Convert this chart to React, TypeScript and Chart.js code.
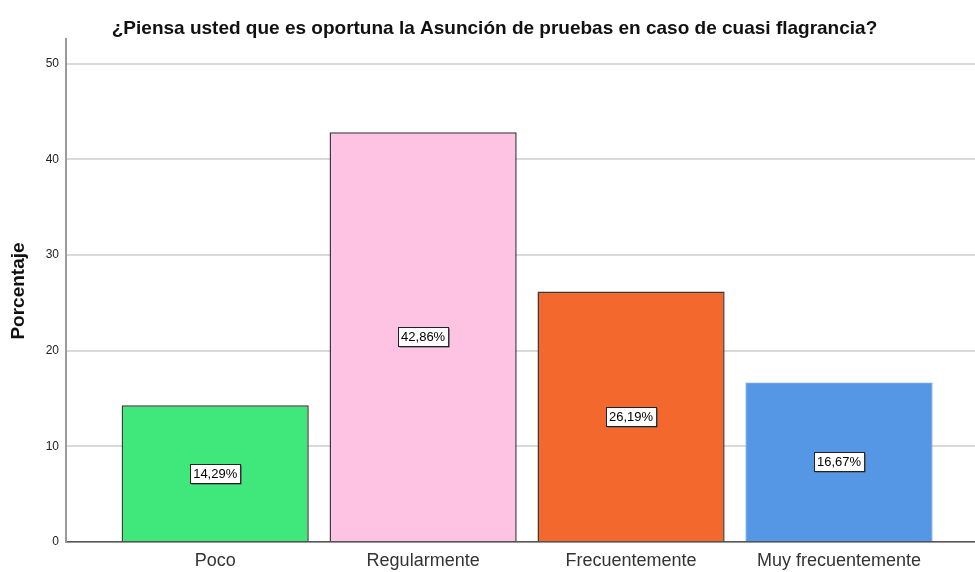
import React, { useEffect, useRef } from "react";
import { Chart, registerables } from "chart.js";

Chart.register(...registerables);

const titleText = "¿Piensa usted que es oportuna la Asunción de pruebas en caso de cuasi flagrancia?";
const yAxisTitle = "Porcentaje";
const categories = ["Poco", "Regularmente", "Frecuentemente", "Muy frecuentemente"];
const percentages = [14.29, 42.86, 26.19, 16.67];
const yTickValues = [0, 10, 20, 30, 40, 50];
const barColors = ["#40e87c", "#fec3e2", "#f3682d", "#5596e5"];
const barBorders = ["#3a3a3a", "#3a3a3a", "#3a3a3a", "#6aa3e8"];

const FONT = "'Liberation Sans', Arial, Helvetica, sans-serif";

const textPlugin = {
  id: "customText",
  afterDraw(chart: any) {
    const ctx = chart.ctx;
    ctx.save();
    ctx.fillStyle = "#111";
    ctx.font = `bold 19px ${FONT}`;
    ctx.textAlign = "center";
    ctx.textBaseline = "alphabetic";
    ctx.fillText(titleText, 494.5, 34);
    ctx.translate(24, 291);
    ctx.rotate(-Math.PI / 2);
    ctx.font = `bold 19px ${FONT}`;
    ctx.fillStyle = "#111";
    ctx.textAlign = "center";
    ctx.textBaseline = "alphabetic";
    ctx.fillText(yAxisTitle, 0, 0);
    ctx.restore();
  },
};

const labelPlugin = {
  id: "barLabels",
  afterDatasetsDraw(chart: any) {
    const ctx = chart.ctx;
    const meta = chart.getDatasetMeta(0);
    ctx.save();
    ctx.font = `13px ${FONT}`;
    ctx.textAlign = "center";
    ctx.textBaseline = "middle";
    meta.data.forEach((el: any, i: number) => {
      const txt = percentages[i].toFixed(2).replace(".", ",") + "%";
      const w = ctx.measureText(txt).width + 6;
      const h = 19;
      const cx = el.x;
      const cy = (el.y + el.base) / 2;
      const x0 = Math.round(cx - w / 2) + 0.5;
      const y0 = Math.round(cy - h / 2) + 0.5;
      ctx.fillStyle = "#555";
      ctx.fillRect(x0 + 1, y0 + 1, w, h);
      ctx.fillStyle = "#fff";
      ctx.fillRect(x0, y0, w, h);
      ctx.strokeStyle = "#222";
      ctx.lineWidth = 1;
      ctx.strokeRect(x0, y0, w, h);
      ctx.fillStyle = "#000";
      ctx.fillText(txt, cx, cy + 1);
    });
    ctx.restore();
  },
};

export default function App() {
  const ref = useRef<HTMLCanvasElement>(null);

  useEffect(() => {
    if (!ref.current) return;
    const chart = new Chart(ref.current, {
      type: "bar",
      data: {
        datasets: [
          {
            data: percentages.map((v, i) => ({ x: i, y: v })),
            backgroundColor: barColors,
            borderColor: barBorders,
            borderWidth: 1.5,
            barPercentage: 0.9,
            categoryPercentage: 1,
          },
        ],
      },
      options: {
        animation: false,
        responsive: false,
        layout: { padding: { top: 39, left: 0, right: 0, bottom: 0 } },
        plugins: {
          legend: { display: false },
          tooltip: { enabled: false },
          title: { display: false },
        },
        scales: {
          x: {
            type: "linear",
            offset: false,
            min: -0.7175,
            max: 3.654,
            grid: { display: false, drawTicks: false, offset: false },
            border: { display: true, color: "#555", width: 1.5 },
            afterBuildTicks: (scale: any) => {
              scale.ticks = categories.map((_, i) => ({ value: i }));
            },
            afterFit: (scale: any) => {
              scale.height = 30;
            },
            ticks: {
              autoSkip: false,
              maxRotation: 0,
              padding: 8,
              color: "#333",
              font: { family: FONT, size: 18 },
              callback: (v: any) => categories[v as number] ?? "",
            },
          },
          y: {
            min: 0,
            max: 52.6,
            grid: { color: "#d9d9d9", lineWidth: 2, drawTicks: false },
            border: { display: true, color: "#9a9a9a", width: 2 },
            afterBuildTicks: (scale: any) => {
              scale.ticks = yTickValues.map((v) => ({ value: v }));
            },
            afterFit: (scale: any) => {
              scale.width = 66;
            },
            ticks: {
              padding: 7,
              color: "#222",
              font: { family: FONT, size: 12 },
            },
          },
        },
      },
      plugins: [textPlugin, labelPlugin],
    } as any);
    return () => chart.destroy();
  }, []);

  return (
    <div style={{ position: "absolute", left: 0, top: 0, width: 975, height: 572, background: "#fff" }}>
      <canvas ref={ref} width={975} height={572} style={{ display: "block" }} />
    </div>
  );
}
